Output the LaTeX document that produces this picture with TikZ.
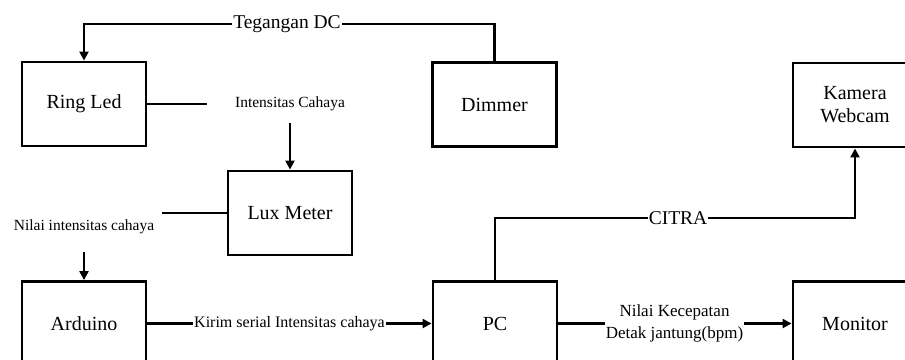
\documentclass[tikz,border=0pt]{standalone}
\usepackage{fontspec}
\setmainfont{Liberation Serif}
\usetikzlibrary{arrows.meta}
\begin{document}
\begin{tikzpicture}[x=1pt,y=-1pt,
  box/.style={draw, line width=2.9pt, minimum width=124pt, minimum height=84pt, inner sep=0pt, font=\fontsize{20}{23}\selectfont, align=center},
  conn/.style={line width=2.5pt},
  arr/.style={conn, -{Triangle[length=9pt,width=9pt]}},
  lbl/.style={inner xsep=1pt, inner ysep=0pt},
  bigf/.style={font=\fontsize{19.5}{22}\selectfont},
  smallf/.style={font=\fontsize{15.5}{18}\selectfont},
  midf/.style={font=\fontsize{17}{22}\selectfont}]
\useasboundingbox (0,0) rectangle (905,359);
\clip (0,0) rectangle (905,359);
% boxes
\node[box] (ringled) at (84,104) {Ring Led};
\node[box] (dimmer) at (494.5,104.5) {Dimmer};
\node[box] (kamera) at (855,105) {Kamera\\Webcam};
\node[box] (lux) at (290,213) {Lux Meter};
\node[box] (arduino) at (84,323.5) {Arduino};
\node[box] (pc) at (495,323.5) {PC};
\node[box] (monitor) at (855,323.5) {Monitor};
% labels
\node[lbl, bigf] (tdc) at (287,24) {Tegangan DC};
\node[lbl, smallf, inner xsep=0pt, minimum width=166pt, minimum height=38pt] (intc) at (290,104) {Intensitas Cahaya};
\node[lbl, smallf, inner xsep=0pt, minimum width=156pt, minimum height=50pt] (nilai) at (84,227) {Nilai intensitas cahaya};
\node[lbl, font=\fontsize{16}{19}\selectfont] (kirim) at (289.5,323.5) {Kirim serial Intensitas cahaya};
\node[lbl, bigf] (citra) at (678,218) {CITRA};
\node[lbl, midf, align=center] (bpm) at (674.5,323.5) {Nilai Kecepatan\\Detak jantung(bpm)};
% connectors
\draw[conn] (dimmer.north) |- (tdc.east);
\draw[arr] (tdc.west) -| (ringled.north);
\draw[conn] (ringled.east) -- (intc.west);
\draw[arr] (intc.south) -- (lux.north);
\draw[conn] (lux.west) -- (lux.west -| nilai.east);
\draw[arr] (nilai.south) -- (arduino.north);
\draw[conn] (arduino.east) -- (kirim.west);
\draw[arr] (kirim.east) -- (pc.west);
\draw[conn] (pc.north) |- (citra.west);
\draw[arr] (citra.east) -| (kamera.south);
\draw[conn] (pc.east) -- (bpm.west);
\draw[arr] (bpm.east) -- (monitor.west);
\end{tikzpicture}
\end{document}
